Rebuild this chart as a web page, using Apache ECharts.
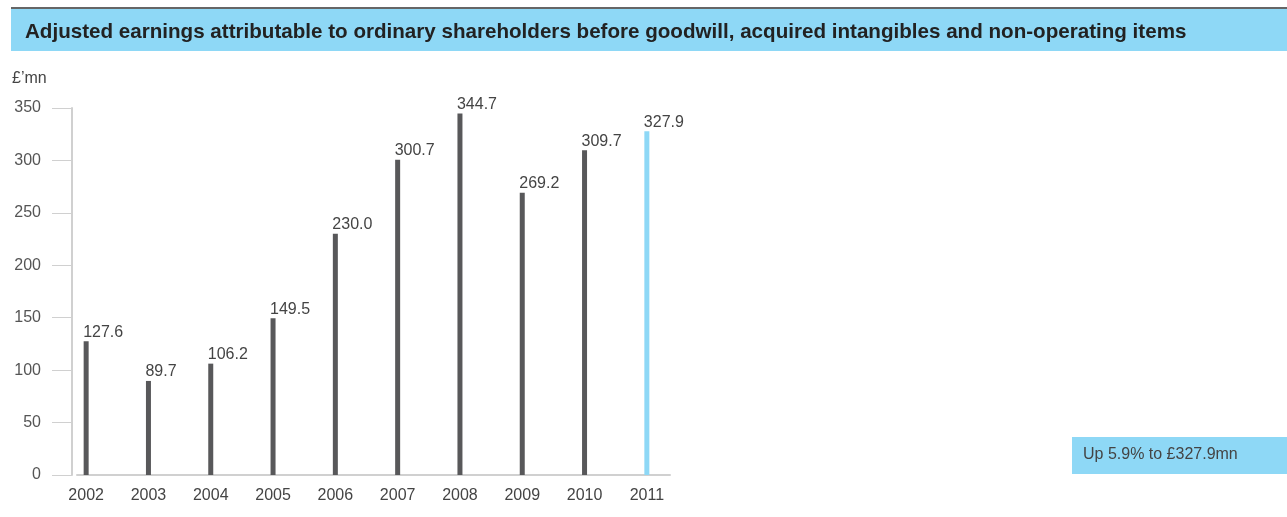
<!DOCTYPE html>
<html>
<head>
<meta charset="utf-8">
<script src="https://cdn.jsdelivr.net/npm/echarts@6/dist/echarts.min.js"></script>
<style>
  html, body { margin: 0; padding: 0; background: #fff; }
  #chart { width: 1287px; height: 517px; }
</style>
</head>
<body>
<div id="chart"></div>
<script>
// Adjusted earnings, £ millions, by year
const years = ['2002', '2003', '2004', '2005', '2006', '2007', '2008', '2009', '2010', '2011'];
const earnings = [127.6, 89.7, 106.2, 149.5, 230.0, 300.7, 344.7, 269.2, 309.7, 327.9];
const yTicks = { min: 0, max: 350, interval: 50 };

const titleText = 'Adjusted earnings attributable to ordinary shareholders before goodwill, acquired intangibles and non-operating items';
const unitText = '£’mn';
const noteText = 'Up 5.9% to £327.9mn';

const FONT = '"Liberation Sans", Arial, Helvetica, sans-serif';
const DARK = '#58585a';
const BLUE = '#8ed8f6';
const AXIS = '#d0d0d0';

const chart = echarts.init(document.getElementById('chart'), null, { renderer: 'canvas' });

const barData = earnings.map((v, i) => ({
  value: v,
  itemStyle: { color: i === earnings.length - 1 ? BLUE : DARK }
}));

chart.setOption({
  animation: false,
  backgroundColor: '#ffffff',
  textStyle: { fontFamily: FONT },
  grid: [
    { left: 55, width: 623, top: 108, bottom: 42, containLabel: false },
    { left: 77, width: 593, top: 108, bottom: 42, containLabel: false }
  ],
  xAxis: [
    {
      type: 'category',
      gridIndex: 0,
      data: years,
      boundaryGap: true,
      axisLine: { show: false },
      axisTick: { show: false },
      axisLabel: { color: '#444', fontSize: 16, margin: 13, fontFamily: FONT }
    },
    {
      type: 'value',
      gridIndex: 1,
      min: 0, max: 1,
      axisLine: { show: true, lineStyle: { color: AXIS, width: 2 } },
      axisTick: { show: false },
      axisLabel: { show: false },
      splitLine: { show: false }
    }
  ],
  yAxis: [
    {
      type: 'value',
      gridIndex: 0,
      min: yTicks.min, max: yTicks.max, interval: yTicks.interval,
      offset: -17,
      axisLine: { show: true, lineStyle: { color: AXIS, width: 2 } },
      axisTick: { show: true, length: 20, lineStyle: { color: AXIS, width: 1 } },
      axisLabel: { color: '#555', fontSize: 16, margin: 31, fontFamily: FONT, padding: [3, 0, 0, 0] },
      splitLine: { show: false }
    },
    {
      type: 'value',
      gridIndex: 1,
      show: false
    }
  ],
  series: [
    {
      type: 'bar',
      xAxisIndex: 0,
      yAxisIndex: 0,
      data: barData,
      barWidth: 5,
      label: {
        show: true,
        position: 'top',
        distance: 1,
        align: 'left',
        offset: [-3, 0],
        color: '#444',
        fontSize: 16,
        fontFamily: FONT,
        formatter: p => p.value.toFixed(1)
      }
    }
  ],
  graphic: [
    { type: 'rect', left: 11, top: 7, shape: { width: 1276, height: 2 }, style: { fill: '#666' } },
    { type: 'rect', left: 11, top: 9, shape: { width: 1276, height: 42 }, style: { fill: BLUE } },
    {
      type: 'text', left: 25, top: 22,
      style: { text: titleText, fill: '#222', font: 'bold 20.6px ' + FONT }
    },
    {
      type: 'text', left: 12, top: 71,
      style: { text: unitText, fill: '#444', font: '16px ' + FONT }
    },
    { type: 'rect', left: 1072, top: 437, shape: { width: 215, height: 37 }, style: { fill: BLUE } },
    {
      type: 'text', left: 1083, top: 447,
      style: { text: noteText, fill: '#444', font: '16px ' + FONT }
    }
  ]
});
</script>
</body>
</html>
